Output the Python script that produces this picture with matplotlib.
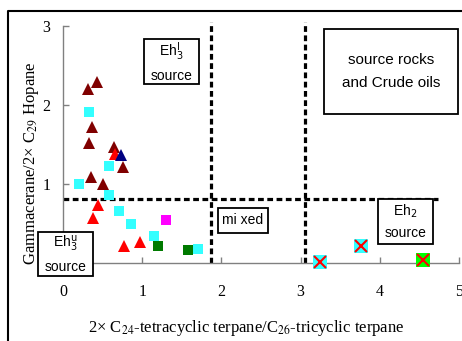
import matplotlib
matplotlib.use("Agg")
import matplotlib.pyplot as plt
from matplotlib.lines import Line2D
from matplotlib.patches import Rectangle

# ---- data ----
darkred_x = [0.32, 0.43, 0.37, 0.33, 0.64, 0.76, 0.35, 0.51]
darkred_y = [2.20, 2.29, 1.72, 1.52, 1.47, 1.21, 1.09, 1.00]
red_x = [0.66, 0.44, 0.38, 0.77, 0.97]
red_y = [1.38, 0.73, 0.57, 0.21, 0.27]
blue_x = [0.73]
blue_y = [1.37]
cyan_x = [0.33, 0.58, 0.20, 0.58, 0.71, 0.86, 1.15, 1.70]
cyan_y = [1.91, 1.23, 1.00, 0.86, 0.66, 0.50, 0.34, 0.18]
green_x = [1.20, 1.58]
green_y = [0.22, 0.16]
magenta_x = [1.30]
magenta_y = [0.54]
oilcyan_x = [3.25, 3.76]
oilcyan_y = [0.01, 0.22]
oillime_x = [4.55]
oillime_y = [0.04]

vline_x = [1.87, 3.06]
hline_y = 0.81
hline_xmax = 4.73

xticks = [0, 1, 2, 3, 4, 5]
xtick_labels = ["0", "1", "2", "3", "4", "5"]
yticks = [0, 1, 2, 3]
ytick_labels = ["", "1", "2", "3"]  # "0" is hidden behind the Eh3u box

W, H = 462, 341
fig = plt.figure(figsize=(W/100, H/100), dpi=100)
ax = fig.add_axes([63/W, (H-263)/H, 396/W, 237/H])
ax.set_xlim(0, 5)
ax.set_ylim(0, 3)

for s in ["top", "right"]:
    ax.spines[s].set_visible(False)
for s in ["left", "bottom"]:
    ax.spines[s].set_color("#808080")
    ax.spines[s].set_linewidth(1.0)
ax.tick_params(direction="in", length=4, color="#808080", width=1.0,
               labelsize=11.5)
ax.tick_params(axis="x", pad=15)
ax.tick_params(axis="y", pad=9)
ax.set_xticks(xticks, xtick_labels)
ax.set_yticks(yticks, ytick_labels)
for lab in ax.get_xticklabels() + ax.get_yticklabels():
    lab.set_family("Liberation Serif")

# dashed lines
dash = (0, (1.8, 1.1))
for vx in vline_x:
    ax.plot([vx, vx], [0, 3.05], color="black", lw=2.3, linestyle=dash,
            clip_on=False, zorder=2)
ax.plot([0, hline_xmax], [hline_y, hline_y], color="black", lw=2.3,
        linestyle=dash, clip_on=False, zorder=2)

# markers
ax.plot(darkred_x, darkred_y, "^", color="#800000", ms=9, mew=0, clip_on=False, zorder=3)
ax.plot(cyan_x, cyan_y, "s", color="#33FFFF", ms=7.5, mew=0, clip_on=False, zorder=3)
ax.plot(red_x, red_y, "^", color="#FF0000", ms=9, mew=0, clip_on=False, zorder=3)
ax.plot(blue_x, blue_y, "^", color="#000080", ms=9, mew=0, clip_on=False, zorder=4)
ax.plot(green_x, green_y, "s", color="#007A00", ms=7.5, mew=0, clip_on=False, zorder=3)
ax.plot(magenta_x, magenta_y, "s", color="#FF00FF", ms=7.5, mew=0, clip_on=False, zorder=3)
ax.plot(oilcyan_x, oilcyan_y, "s", color="#33FFFF", ms=10.5, mew=0, clip_on=False, zorder=3)
ax.plot(oillime_x, oillime_y, "s", color="#00FF00", ms=10.5, mew=0, clip_on=False, zorder=3)
ax.plot(oilcyan_x + oillime_x, oilcyan_y + oillime_y, "x", color="#FF0000",
        ms=9, mew=1.5, clip_on=False, zorder=4)

def fx(xp):
    return xp / W

def fy(yp):
    return (H - yp) / H

# axis labels
fig.text(fx(246.5), fy(328), "2× C$_{24}$-tetracyclic terpane/C$_{26}$-tricyclic terpane",
         family="Liberation Serif", fontsize=12, math_fontfamily="stix",
         ha="center", va="center")
fig.text(fx(32), fy(163.5), "Gammacerane/2× C$_{29}$ Hopane",
         family="Liberation Serif", fontsize=12, math_fontfamily="stix",
         ha="center", va="center", rotation=90)

# boxes: (left, top, right, bottom) in pixels
def box(x0, y0, x1, y1, text, fs=10, ls=1.5):
    fig.add_artist(Rectangle((fx(x0), fy(y1)), (x1 - x0)/W, (y1 - y0)/H,
                             transform=fig.transFigure, fc="white", ec="black",
                             lw=1.3, zorder=6))
    fig.text(fx((x0 + x1)/2), fy((y0 + y1)/2), text, family="Liberation Sans",
             fontsize=fs, ha="center", va="center", linespacing=ls,
             math_fontfamily="dejavusans", zorder=7)

box(144, 39, 199, 84, "Eh$_3^{\\mathrm{I}}$\nsource")
box(324, 29, 458, 114, "source rocks\nand Crude oils", fs=11, ls=1.75)
box(218, 208, 268, 233, "mi xed")
box(378, 199, 433, 244, "Eh$_2$\nsource")
box(38, 232, 93, 276, "Eh$_3^{\\mathrm{u}}$\nsource")

# outer frame
fig.add_artist(Line2D([8/W, 8/W, 1.0], [0, fy(11), fy(11)],
                      transform=fig.transFigure, color="black", lw=1.5))

fig.savefig("out.png", dpi=100)
